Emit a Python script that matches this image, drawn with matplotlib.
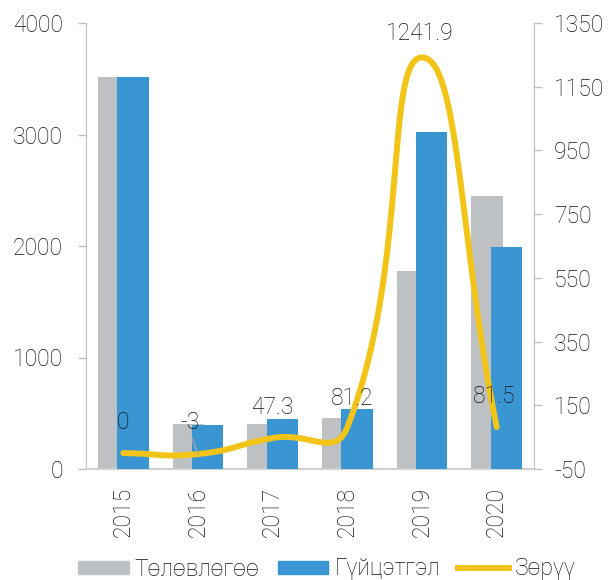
import matplotlib
matplotlib.use("Agg")
import matplotlib.pyplot as plt
import numpy as np
from matplotlib.patches import Patch
from matplotlib.lines import Line2D

years = ["2015", "2016", "2017", "2018", "2019", "2020"]
plan = [3520, 400, 405, 460, 1776, 2450]
actual = [3520, 395, 450, 540, 3020, 1990]
deviation = [0, -3, 47.3, 81.2, 1241.9, 81.5]
dev_labels = ["0", "-3", "47.3", "81.2", "1241.9", "81.5"]
left_ticks = [0, 1000, 2000, 3000, 4000]
right_ticks = [-50, 150, 350, 550, 750, 950, 1150, 1350]
legend_names = ["Төлөвлөгөө", "Гүйцэтгэл", "Зөрүү"]

GREY = "#BDC1C4"
BLUE = "#3A96D3"
YELLOW = "#F2C417"
AXIS = "#BFBFBF"
TXT = "#111111"

plt.rcParams["font.family"] = ["Roboto", "DejaVu Sans"]
plt.rcParams["font.weight"] = "light"
FS = 16.5

W, H = 611, 580
fig = plt.figure(figsize=(W / 100, H / 100), dpi=100)
ax = fig.add_axes([86 / W, 1 - 469 / H, 448 / W, 446 / H])
ax2 = ax.twinx()

x = np.arange(len(years))
bw = 0.42
off = 0.13
ax.bar(x - off, plan, width=bw, color=GREY, zorder=2)
ax.bar(x + off, actual, width=bw, color=BLUE, zorder=3)

ax.set_xlim(-0.5, len(years) - 0.5)
ax.set_ylim(0, 4000)
ax.set_yticks(left_ticks)
ax.set_yticklabels([str(v) for v in left_ticks], fontsize=FS, color=TXT)
ax.set_xticks(x)
ax.set_xticklabels(years, rotation=90, fontsize=FS, color=TXT)
ax.tick_params(axis="x", length=0, pad=13)
ax.tick_params(axis="y", length=5.8, width=1, color=AXIS, pad=11)
for s in ["top", "right"]:
    ax.spines[s].set_visible(False)
ax.spines["left"].set_color(AXIS)
ax.spines["bottom"].set_color("#D0D0D0")
ax.spines["bottom"].set_linewidth(1.5)

ax2.set_ylim(-50, 1350)
ax2.set_yticks(right_ticks)
ax2.set_yticklabels([str(v) for v in right_ticks], fontsize=FS, color=TXT)
ax2.tick_params(axis="y", length=5.8, width=1, color=AXIS, pad=8.5)
for s in ["top", "left", "bottom"]:
    ax2.spines[s].set_visible(False)
ax2.spines["right"].set_color(AXIS)

# Excel-like smoothed line computed in display space
pts = ax2.transData.transform(np.column_stack([x, deviation]))
n = len(pts)
curve = []
t_ = 0.5
for i in range(n - 1):
    p0 = pts[i - 1] if i > 0 else pts[i]
    p1 = pts[i]
    p2 = pts[i + 1]
    p3 = pts[i + 2] if i + 2 < n else pts[i + 1]
    d01 = np.linalg.norm(p1 - p0)
    d12 = np.linalg.norm(p2 - p1)
    d23 = np.linalg.norm(p3 - p2)
    f1 = d12 / (d01 + d12) if (d01 + d12) > 0 else 0
    f2 = d12 / (d12 + d23) if (d12 + d23) > 0 else 0
    c1 = p1 + (p2 - p0) * t_ * f1
    c2 = p2 - (p3 - p1) * t_ * f2
    tt = np.linspace(0, 1, 60)[:, None]
    seg = ((1 - tt) ** 3) * p1 + 3 * ((1 - tt) ** 2) * tt * c1 + 3 * (1 - tt) * tt ** 2 * c2 + tt ** 3 * p2
    curve.append(seg if i == 0 else seg[1:])
curve = np.vstack(curve)
curve_data = ax2.transData.inverted().transform(curve)
ax2.plot(curve_data[:, 0], curve_data[:, 1], color=YELLOW, lw=4.3,
         solid_capstyle="round", zorder=5)

# data labels
offsets = [(0, 22), (-5.5, 23), (0, 22), (3.5, 21), (-1.5, 17.5), (-1.5, 22)]
for i, (xi, yi) in enumerate(zip(x, deviation)):
    if i == 1:
        ax2.annotate(dev_labels[i], (xi, yi), xytext=offsets[i], textcoords="offset points",
                     ha="center", va="center", fontsize=FS, color=TXT, zorder=6,
                     arrowprops=dict(arrowstyle="-", color="#A6A6A6", lw=1,
                                     shrinkA=1, shrinkB=0, relpos=(0.5, 0)))
    else:
        ax2.annotate(dev_labels[i], (xi, yi), xytext=offsets[i], textcoords="offset points",
                     ha="center", va="center", fontsize=FS, color=TXT, zorder=6)

handles = [Patch(color=GREY), Patch(color=BLUE), Line2D([0], [0], color=YELLOW, lw=4.3)]
fig.legend(handles, legend_names, loc="center", bbox_to_anchor=(327 / W, 1 - 569 / H),
           bbox_transform=fig.transFigure, ncol=3, frameon=False, fontsize=FS,
           handlelength=2.2, handleheight=0.52, handletextpad=0.26, columnspacing=0.8,
           borderpad=0, labelcolor=TXT)

fig.savefig("out.png", dpi=100)
